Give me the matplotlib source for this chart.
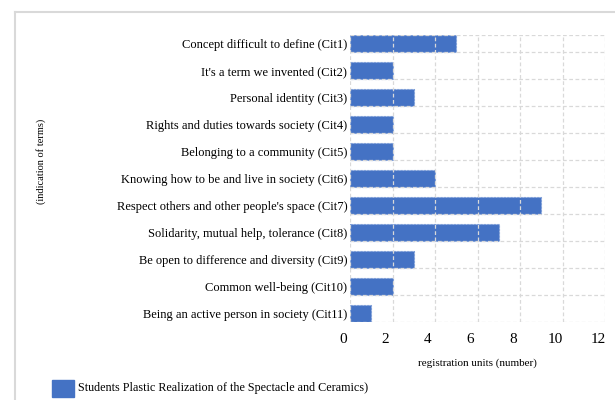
import matplotlib
matplotlib.use("Agg")
import matplotlib.pyplot as plt
import matplotlib.patches as patches
import matplotlib.transforms as mtransforms

# categories and counts (registration units)
terms = [
    "Concept difficult to define (Cit1)",
    "It's a term we invented (Cit2)",
    "Personal identity (Cit3)",
    "Rights and duties towards society (Cit4)",
    "Belonging to a community (Cit5)",
    "Knowing how to be and live in society (Cit6)",
    "Respect others and other people's space (Cit7)",
    "Solidarity, mutual help, tolerance (Cit8)",
    "Be open to difference and diversity (Cit9)",
    "Common well-being (Cit10)",
    "Being an active person in society (Cit11)",
]
counts = [5, 2, 3, 2, 2, 4, 9, 7, 3, 2, 1]
xticks = [0, 2, 4, 6, 8, 10, 12]
series_name = "Students Plastic Realization of the Spectacle and Ceramics)"

plt.rcParams["font.family"] = ["Liberation Serif", "DejaVu Serif"]
blue = "#4472C4"
gridc = "#d9d9d9"

fig = plt.figure(figsize=(6.15, 4.0), dpi=100)
ax = fig.add_axes([350 / 615, 1 - 322 / 400, 255 / 615, 287 / 400])

h = 0.63
pos = list(range(len(terms)))
ax.barh(pos, counts, height=h, color=blue, edgecolor="#7f9fd8",
        linewidth=0.8, linestyle=(0, (2, 1)), zorder=2)

ax.set_xlim(0, 12)
ax.set_ylim(len(terms) - 1 + h / 2, -h / 2)
ax.set_xticks(xticks)
ax.set_xticklabels([str(t) for t in xticks], fontsize=11)
ax.set_yticks(pos)
ax.set_yticklabels(terms, fontsize=9)
ax.tick_params(length=0, pad=2)
ax.tick_params(axis="x", pad=8)

# shift x tick labels slightly left like the source
off = mtransforms.ScaledTranslation(-7 / 100, 0, fig.dpi_scale_trans)
for lab in ax.get_xticklabels():
    lab.set_transform(lab.get_transform() + off)

# dashed grid, drawn over the bars
for x in xticks:
    ax.axvline(x, color=gridc, lw=0.9, ls=(0, (3, 2)), zorder=3)
for y in [-h / 2] + [p + h / 2 for p in pos]:
    ax.axhline(y, color=gridc, lw=0.9, ls=(0, (3, 2)), zorder=3)
for s in ax.spines.values():
    s.set_visible(False)

ax.set_xlabel("registration units (number)", fontsize=8, labelpad=9)
fig.text(41 / 615, 1 - 161 / 400, "(indication of terms)", rotation=90,
         fontsize=7.5, ha="center", va="center")

# legend
fig.patches.append(patches.Rectangle((52 / 615, 1 - 397 / 400), 22 / 615, 17 / 400,
                                     transform=fig.transFigure, color=blue))
fig.text(78 / 615, 1 - 388 / 400, series_name, fontsize=8.7, va="center")

# outer frame
fig.add_artist(plt.Line2D([15 / 615, 15 / 615], [0, 1 - 12 / 400],
                          transform=fig.transFigure, color=gridc, lw=1.5))
fig.add_artist(plt.Line2D([15 / 615, 1], [1 - 12 / 400, 1 - 12 / 400],
                          transform=fig.transFigure, color=gridc, lw=1.5))

fig.savefig("out.png", dpi=100)
